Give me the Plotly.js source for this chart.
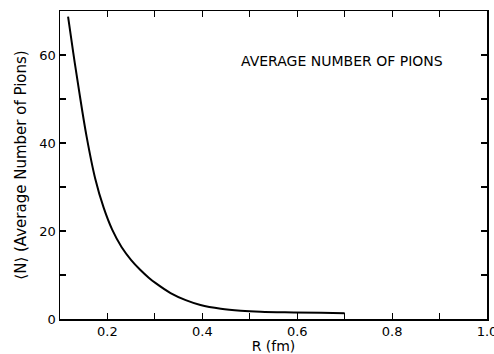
<!DOCTYPE html>
<html>
<head>
<meta charset="utf-8">
<script src="https://cdn.plot.ly/plotly-3.0.1.min.js"></script>
<style>html,body{margin:0;padding:0;background:#fff;}#chart{width:494px;height:354px;}</style>
</head>
<body>
<div id="chart"></div>
<script>
const radius = [0.117, 0.128, 0.14, 0.156, 0.174, 0.192, 0.21, 0.23, 0.25, 0.269, 0.287, 0.301, 0.333, 0.365, 0.396, 0.439, 0.481, 0.523, 0.593, 0.65, 0.7];
const avgPions = [68.7, 60.5, 52, 41.5, 32, 25.3, 20.3, 16.3, 13.4, 11.2, 9.4, 8.2, 5.9, 4.3, 3.2, 2.35, 1.9, 1.66, 1.5, 1.4, 1.3];
const xTickVals = [0.2, 0.4, 0.6, 0.8, 1.0];
const xTickText = ["0.2", "0.4", "0.6", "0.8", "1.0"];
const yTickVals = [0, 20, 40, 60];
const yTickText = ["0", "20", "40", "60"];
const chartLabel = "AVERAGE NUMBER OF PIONS";

const font = "DejaVu Sans, sans-serif";
const tickStyle = {ticks: "inside", ticklen: 6, tickwidth: 1.2, tickcolor: "#000"};
const axisCommon = Object.assign({
  showline: true, linecolor: "#000", linewidth: 1.5,
  showgrid: false, zeroline: false, ticklabeloverflow: "allow",
  tickfont: {family: font, size: 13, color: "#000"},
}, tickStyle);
const xMinor = Object.assign({dtick: 0.1, tick0: 0.1}, tickStyle);
const yMinor = Object.assign({dtick: 10, tick0: 0}, tickStyle);

const layout = {
  width: 494, height: 354,
  margin: {l: 60, r: 7, t: 11, b: 35},
  paper_bgcolor: "#fff", plot_bgcolor: "#fff",
  showlegend: false,
  xaxis: Object.assign({}, axisCommon, {
    range: [0.1, 1.0], tickmode: "array", tickvals: xTickVals, ticktext: xTickText,
    minor: xMinor,
    title: {text: "R (fm)", font: {family: font, size: 14, color: "#000"}, standoff: 2},
  }),
  yaxis: Object.assign({}, axisCommon, {
    range: [0, 70], tickmode: "array", tickvals: yTickVals, ticktext: yTickText,
    minor: yMinor,
    title: {text: "⟨N⟩ (Average Number of Pions)", font: {family: font, size: 15, color: "#000"}, standoff: 9},
  }),
  xaxis2: Object.assign({}, axisCommon, {
    overlaying: "x", side: "top", anchor: "y", range: [0.1, 1.0],
    tickmode: "array", tickvals: xTickVals, showticklabels: false, minor: xMinor
  }),
  yaxis2: Object.assign({}, axisCommon, {
    overlaying: "y", side: "right", anchor: "x", range: [0, 70],
    tickmode: "array", tickvals: yTickVals, showticklabels: false, minor: yMinor
  }),
  annotations: [{
    x: 0.695, y: 58.7, xref: "x", yref: "y", text: chartLabel, showarrow: false,
    font: {family: font, size: 14, color: "#000"}, xanchor: "center", yanchor: "middle"
  }]
};
Plotly.newPlot("chart", [
  {x: radius, y: avgPions, type: "scatter", mode: "lines",
   line: {color: "#000", width: 2, shape: "spline", smoothing: 1}},
  {x: [], y: [], xaxis: "x2", yaxis: "y2", type: "scatter", mode: "lines", hoverinfo: "skip"}
], layout, {staticPlot: true});
</script>
</body>
</html>
